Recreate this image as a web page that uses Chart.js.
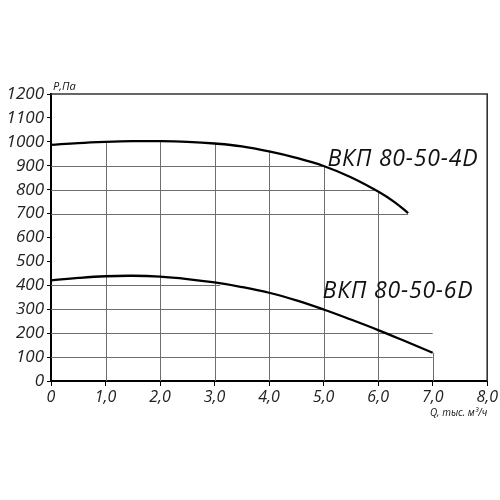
<!DOCTYPE html>
<html><head><meta charset="utf-8">
<script src="https://cdn.jsdelivr.net/npm/chart.js@4.4.1/dist/chart.umd.min.js"></script>
<style>html,body{margin:0;padding:0;background:#fff}#wrap{width:500px;height:500px}</style>
</head><body><div id="wrap"><canvas id="c" width="500" height="500"></canvas></div>
<script>
// ---- data ----
const flow4D = [0, 0.5, 1, 1.5, 2, 2.5, 3, 3.5, 4, 4.5, 5, 5.5, 6, 6.3, 6.55];
const pressure4D = [987, 995, 1000, 1003, 1003, 1000, 993, 981, 960, 933, 899, 852, 792, 748, 702];
const flow6D = [0, 0.5, 1, 1.5, 2, 2.5, 3, 3.5, 4, 4.5, 5, 5.5, 6, 6.5, 7];
const pressure6D = [421, 431, 438, 440, 436, 426, 412, 393, 369, 337, 299, 257, 213, 166, 118];
const seriesNames = ['ВКП 80-50-4D', 'ВКП 80-50-6D'];
const xTickValues = [0, 1, 2, 3, 4, 5, 6, 7, 8];
const yTickValues = [0, 100, 200, 300, 400, 500, 600, 700, 800, 900, 1000, 1100, 1200];
const yAxisTitle = 'Р,Па';
const xAxisTitle = 'Q, тыс. м³/ч';

// grid segments in data units (grid is drawn only below the curves)
const hGrid = [[100, 7], [200, 7], [300, 5], [400, 3.1], [700, 6.55], [800, 5.93], [900, 4.98]];
const vGrid = [[1, 1000], [2, 1003], [3, 993], [4, 960], [5, 899], [6, 792], [7, 118]];

const FONT = '"Open Sans", "DejaVu Sans", sans-serif';

const pts = (xs, ys) => xs.map((x, i) => ({ x, y: ys[i] }));

const decor = {
  id: 'decor',
  beforeDatasetsDraw(chart) {
    const { ctx, chartArea: a, scales: { x, y } } = chart;
    ctx.save();
    ctx.strokeStyle = '#6e6e6e';
    ctx.lineWidth = 1;
    ctx.beginPath();
    hGrid.forEach(([v, to]) => {
      const py = Math.round(y.getPixelForValue(v)) + 0.5;
      ctx.moveTo(x.getPixelForValue(0), py);
      ctx.lineTo(x.getPixelForValue(to), py);
    });
    vGrid.forEach(([v, top]) => {
      const px = Math.round(x.getPixelForValue(v)) + 0.5;
      ctx.moveTo(px, y.getPixelForValue(0));
      ctx.lineTo(px, y.getPixelForValue(top));
    });
    ctx.stroke();
    // top and right frame
    ctx.strokeStyle = '#333';
    ctx.lineWidth = 1.6;
    ctx.beginPath();
    ctx.moveTo(a.left, a.top);
    ctx.lineTo(a.right, a.top);
    ctx.lineTo(a.right, a.bottom);
    ctx.stroke();
    ctx.restore();
  },
  afterDatasetsDraw(chart) {
    const { ctx, chartArea: a, scales: { x, y } } = chart;
    ctx.save();
    ctx.fillStyle = '#111';
    ctx.textBaseline = 'alphabetic';
    ctx.font = 'italic 23px ' + FONT;
    ctx.textAlign = 'left';
    if ('letterSpacing' in ctx) ctx.letterSpacing = '0.8px';
    ctx.fillText(seriesNames[0], x.getPixelForValue(5.07), y.getPixelForValue(901));
    ctx.fillText(seriesNames[1], x.getPixelForValue(4.98), y.getPixelForValue(346));
    if ('letterSpacing' in ctx) ctx.letterSpacing = '0px';
    ctx.font = 'italic 11px ' + FONT;
    ctx.fillText(yAxisTitle, a.left + 2, a.top - 4);
    ctx.font = 'italic 10px ' + FONT;
    ctx.textAlign = 'right';
    ctx.fillText(xAxisTitle, a.right, a.bottom + 35);
    ctx.restore();
  }
};

new Chart(document.getElementById('c'), {
  type: 'line',
  data: {
    datasets: [
      { label: seriesNames[0], data: pts(flow4D, pressure4D) },
      { label: seriesNames[1], data: pts(flow6D, pressure6D) }
    ]
  },
  options: {
    responsive: false,
    animation: false,
    devicePixelRatio: 1,
    layout: { padding: { top: 94, right: 12, left: 0, bottom: 0 } },
    elements: {
      line: { borderColor: '#000', borderWidth: 2.3, tension: 0.4, fill: false },
      point: { radius: 0 }
    },
    plugins: { legend: { display: false }, tooltip: { enabled: false } },
    scales: {
      x: {
        type: 'linear', min: 0, max: 8,
        afterBuildTicks: s => { s.ticks = xTickValues.map(v => ({ value: v })); },
        afterFit: s => { s.height = 119; },
        border: { display: true, color: '#000', width: 2 },
        grid: { drawOnChartArea: false, drawTicks: true, tickLength: 5, tickColor: '#000' },
        ticks: {
          padding: 2, color: '#222',
          font: { family: FONT, size: 16, style: 'italic' },
          maxRotation: 0,
          callback: v => v === 0 ? '0' : v.toFixed(1).replace('.', ',')
        }
      },
      y: {
        type: 'linear', min: 0, max: 1200,
        afterBuildTicks: s => { s.ticks = yTickValues.map(v => ({ value: v })); },
        afterFit: s => { s.width = 51; },
        border: { display: true, color: '#000', width: 2 },
        grid: { drawOnChartArea: false, drawTicks: true, tickLength: 4, tickColor: '#000' },
        ticks: {
          padding: 3, color: '#222',
          font: { family: FONT, size: 17, style: 'italic' },
          callback: v => String(v)
        }
      }
    }
  },
  plugins: [decor]
});
</script>
</body></html>
